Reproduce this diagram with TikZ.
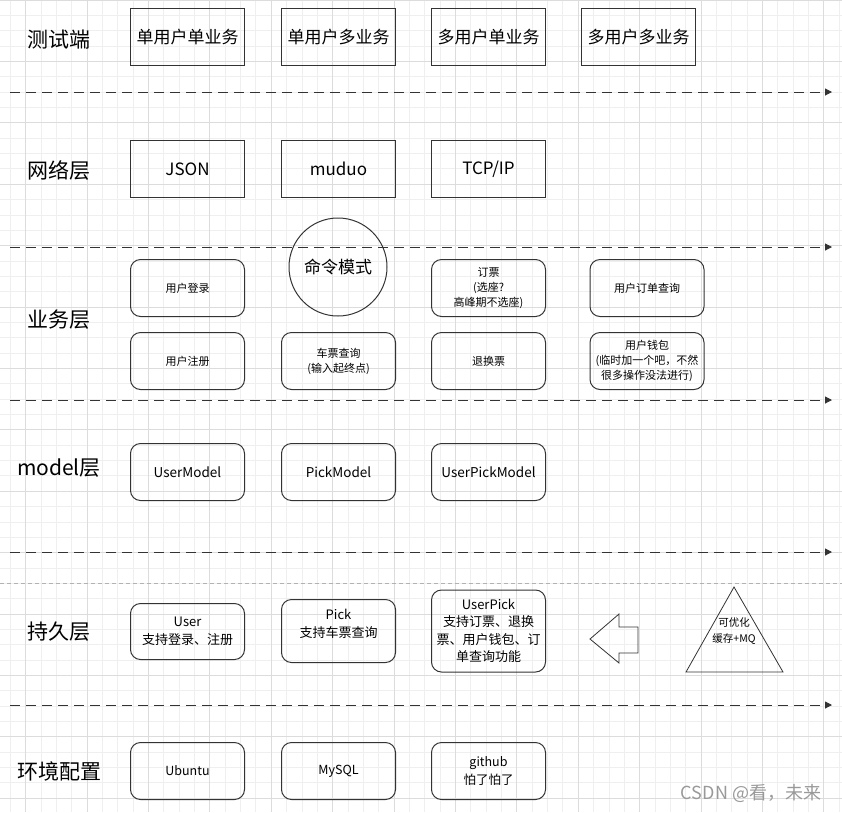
\documentclass[tikz,border=0pt]{standalone}
\usepackage{fontspec}
\setmainfont{Noto Sans CJK SC}
\usepackage{tikz}
\usetikzlibrary{positioning, arrows.meta}
\usepackage{xcolor}
\definecolor{gridminor}{HTML}{EFEFEF}
\definecolor{gridmajor}{HTML}{DCDCDC}
\definecolor{edge}{HTML}{333333}

\begin{document}
\begin{tikzpicture}[x=1pt, y=-1pt,
    layerlabel/.style={font=\fontsize{21}{21}\selectfont, inner sep=0pt},
    sqbox/.style={draw=edge, line width=1pt, minimum width=114pt, minimum height=57pt,
                  inner sep=0pt, align=center, font=\fontsize{17}{20}\selectfont},
    rbox/.style={sqbox, rounded corners=10pt, font=\fontsize{11}{15}\selectfont},
    mbox/.style={rbox, font=\fontsize{13.5}{17.5}\selectfont},
    sep/.style={draw=edge, line width=1pt, dash pattern=on 9.5pt off 6.5pt,
                -{Triangle[length=7pt,width=7pt]}}]
        \useasboundingbox (0,0) rectangle (842,812);

        % Background grid
        \foreach \i in {0,...,54} \draw[gridminor, line width=0.8pt] ({10.25+15.35*\i},0) -- ({10.25+15.35*\i},812);
        \foreach \i in {0,...,52} \draw[gridminor, line width=0.8pt] (0,{15.35*\i}) -- (842,{15.35*\i});
        \foreach \i in {0,...,13} \draw[gridmajor, line width=0.8pt] ({25.6+61.4*\i},0) -- ({25.6+61.4*\i},812);
        \foreach \i in {0,...,13} \draw[gridmajor, line width=0.8pt] (0,{61.4*\i}) -- (842,{61.4*\i});

        % Layer names
        \node[layerlabel] (test)    at (59,40)  {测试端};
        \node[layerlabel] (net)     at (59,170) {网络层};
        \node[layerlabel] (biz)     at (59,320) {业务层};
        \node[layerlabel] (model)   at (59,468) {model层};
        \node[layerlabel] (persist) at (59,632) {持久层};
        \node[layerlabel] (env)     at (59,771) {环境配置};

        % Test side
        \node[sqbox] (sdsb) at (187.5,37) {单用户单业务};
        \node[sqbox] (sdmb) at (338.5,37) {单用户多业务};
        \node[sqbox] (mdsb) at (488.5,37) {多用户单业务};
        \node[sqbox] (mdmb) at (638.5,37) {多用户多业务};

        % Network layer
        \node[sqbox] (json)  at (187.5,169) {JSON};
        \node[sqbox] (muduo) at (338.5,169) {muduo};
        \node[sqbox] (tcpip) at (488.5,169) {TCP/IP};

        % Business layer
        \node[circle, draw=edge, line width=1pt, minimum size=98pt, font=\fontsize{17}{20}\selectfont] (cmd) at (338,267) {命令模式};
        \node[rbox] (login)  at (187.5,288) {用户登录};
        \node[rbox] (book)   at (488.5,288) {订票\\(选座?\\高峰期不选座)};
        \node[rbox] (orders) at (647,288)   {用户订单查询};
        \node[rbox] (signup) at (187.5,361) {用户注册};
        \node[rbox] (query)  at (338.5,361) {车票查询\\(输入起终点)};
        \node[rbox] (refund) at (488.5,361) {退换票};
        \node[rbox] (wallet) at (647,361)   {用户钱包\\(临时加一个吧，不然\\很多操作没法进行)};

        % Model layer
        \node[mbox] (usermodel)     at (187.5,472) {UserModel};
        \node[mbox] (pickmodel)     at (338.5,472) {PickModel};
        \node[mbox] (userpickmodel) at (488.5,472) {UserPickModel};

        % Persistence layer
        \node[mbox, font=\fontsize{13}{17.5}\selectfont, minimum height=56pt] (user)     at (187.5,631.5) {User\\支持登录、注册};
        \node[mbox, font=\fontsize{13}{17.5}\selectfont, minimum height=63pt] (pick)     at (338.5,631)   {};
        \node[font=\fontsize{13}{17.5}\selectfont, align=center] (picktext) at (338.5,624) {Pick\\支持车票查询};
        \node[mbox, font=\fontsize{13}{17.5}\selectfont, minimum height=82pt] (userpick) at (488.5,631)   {UserPick\\支持订票、退换\\票、用户钱包、订\\单查询功能};
        \draw[edge, line width=0.8pt] (590,639) -- (619,614) -- (619,627) -- (638,627) -- (638,653) -- (619,653) -- (619,663) -- cycle;
        \draw[edge, line width=0.8pt] (734,587) -- (783,672) -- (686,672) -- cycle;
        \node[font=\fontsize{10.5}{16}\selectfont, align=center] (optim) at (734,631.5) {可优化\\缓存+MQ};

        % Environment
        \node[mbox, font=\fontsize{12.5}{18}\selectfont] (ubuntu) at (187.5,771) {Ubuntu};
        \node[mbox, font=\fontsize{12.5}{18}\selectfont] (mysql)  at (338.5,771) {MySQL};
        \node[mbox, font=\fontsize{12.5}{18}\selectfont] (github) at (488.5,771) {github\\怕了怕了};

        % Layer separators
        \coordinate (s1a) at (10,92);  \coordinate (s1b) at (832,92);
        \coordinate (s2a) at (10,247); \coordinate (s2b) at (832,247);
        \coordinate (s3a) at (10,400); \coordinate (s3b) at (832,400);
        \coordinate (s4a) at (10,552); \coordinate (s4b) at (832,552);
        \coordinate (s5a) at (10,705); \coordinate (s5b) at (832,705);
        \draw[sep] (s1a) -- (s1b);
        \draw[sep] (s2a) -- (s2b);
        \draw[sep] (s3a) -- (s3b);
        \draw[sep] (s4a) -- (s4b);
        \draw[sep] (s5a) -- (s5b);
        \draw[black!30, line width=0.8pt, dash pattern=on 4pt off 3pt] (0,583) -- (842,583);

        % Watermark
        \node[font=\fontsize{18}{18}\selectfont, text=black!40] (mark) at (751,793) {CSDN @看，未来};
    \end{tikzpicture}
\end{document}
